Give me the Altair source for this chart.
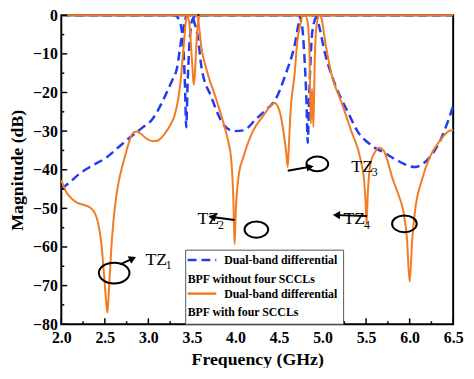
import math
import altair as alt
import pandas as pd

# ---------------- data ----------------
# BPF without four SCCLs (blue dashed)
wo_s21_f = [2.0, 2.1, 2.21, 2.35, 2.52, 2.65, 2.78, 2.92, 3.05, 3.19, 3.27, 3.33, 3.38, 3.42, 3.44,
            3.5, 3.53, 3.57, 3.61, 3.72, 3.87, 3.98, 4.09, 4.24, 4.35, 4.46, 4.58, 4.68, 4.73, 4.76,
            4.93, 4.96, 5.03, 5.14, 5.30, 5.40, 5.55, 5.74, 5.85, 6.06, 6.15, 6.23, 6.38, 6.45, 6.5]
wo_s21_db = [-45, -43.2, -41, -39, -36.8, -34.3, -31.8, -29.3, -26.8, -21, -17, -13.5, -6, -1.5, 0,
             0, -2, -6, -13.5, -21, -28.5, -30, -29.8, -26.8, -24.5, -21.8, -15, -7.7, -1.8, 0,
             0, -2.7, -10, -17.7, -25.5, -30, -33.5, -36, -37.5, -39.3, -38.5, -36.8, -31, -26.8, -23.5]
wo_s11_f = [2.0, 3.30, 3.36, 3.40, 3.42, 3.435, 3.45, 3.47, 3.50, 3.55,
            4.72, 4.76, 4.79, 4.815, 4.83, 4.845, 4.87, 4.90, 4.95, 6.5]
wo_s11_db = [0, 0, -1.5, -8, -18, -29, -18, -8, -1.5, 0,
             0, -2, -10, -22, -33, -22, -8, -2, 0, 0]

# BPF with four SCCLs (orange solid)
w_s21_f = [2.0, 2.05, 2.12, 2.18, 2.27, 2.33, 2.38, 2.42, 2.46, 2.49, 2.515, 2.53, 2.545, 2.57,
           2.60, 2.63, 2.66, 2.72, 2.78, 2.82, 2.86, 2.92, 2.97, 3.05, 3.10, 3.19, 3.25, 3.30,
           3.34, 3.37, 3.40, 3.43, 3.45, 3.55, 3.57, 3.61, 3.68, 3.78, 3.87, 3.92, 3.95, 3.975,
           3.99, 4.005, 4.02, 4.04, 4.09, 4.20, 4.32, 4.40, 4.45, 4.49, 4.52, 4.56, 4.585, 4.60,
           4.615, 4.63, 4.68, 4.71, 4.75, 4.77, 4.97, 4.99, 5.03, 5.10, 5.22, 5.33, 5.44, 5.48,
           5.495, 5.505, 5.52, 5.55, 5.60, 5.65, 5.70, 5.81, 5.88, 5.93, 5.97, 6.0, 6.03, 6.06,
           6.14, 6.23, 6.34, 6.45, 6.5]
w_s21_db = [-42.7, -45.5, -47.5, -48.5, -49.2, -49.8, -51, -53.5, -59, -67, -74, -77, -72, -62,
            -53, -47, -43, -37.5, -32.7, -30.6, -30.1, -30.8, -31.8, -32.6, -32.5, -30.6, -28.5, -26,
            -22, -17, -9.3, -1.8, 0, 0, -1, -8.5, -15, -21.8, -28.5, -33, -37, -47,
            -59.3, -50, -45, -41, -36.8, -30, -26, -23.5, -22.7, -23.8, -26, -31.5, -36, -39.3,
            -33, -26, -15, -6.8, -1.8, 0, 0, -1, -6.8, -15, -22.7, -30, -37.7, -43.5,
            -49, -54, -46, -38.5, -35.5, -34.3, -35, -42.7, -47, -51, -58, -69, -58, -51,
            -42.7, -36.8, -32.7, -30, -29.7]
w_s11_f = [2.0, 3.44, 3.47, 3.49, 3.51, 3.52, 3.535, 3.55, 3.57, 3.60,
           4.80, 4.83, 4.85, 4.865, 4.88, 4.895, 4.91, 4.93, 4.96, 6.5]
w_s11_db = [0, 0, -2, -8, -15, -18, -15, -8, -2, 0,
            0, -2, -10, -28, -19, -29, -12, -3, 0, 0]

# axis ticks
x_major = [2.0, 2.5, 3.0, 3.5, 4.0, 4.5, 5.0, 5.5, 6.0, 6.5]
x_minor = [2.25, 2.75, 3.25, 3.75, 4.25, 4.75, 5.25, 5.75, 6.25]
y_major = [-80, -70, -60, -50, -40, -30, -20, -10, 0]
y_minor = [-75, -65, -55, -45, -35, -25, -15, -5]

# transmission-zero annotations
tz_text = ["TZ", "TZ", "TZ", "TZ"]
tz_sub = ["1", "2", "3", "4"]
tz_text_f = [2.967, 3.563, 5.33, 5.24]
tz_text_db = [-64.75, -54.0, -40.5, -54.0]
tz_sub_f = [3.20, 3.80, 5.565, 5.475]
tz_sub_db = [-65.75, -55.25, -41.75, -55.25]
ell_f = [2.607, 4.24, 4.94, 5.94]
ell_db = [-66.75, -55.5, -38.5, -54.0]
arr_f0 = [2.675, 3.99, 4.60, 5.51]
arr_db0 = [-64.5, -53.0, -40.25, -52.0]
arr_f1 = [2.82, 3.73, 4.857, 5.16]
arr_db1 = [-63.0, -52.25, -39.25, -51.75]

legend_lines = ["Dual-band differential", "BPF without four SCCLs",
                "Dual-band differential", "BPF with four SCCLs"]

# ---------------- styling ----------------
W, H = 397, 313
BLUE = "#1f3cf0"
ORANGE = "#f47b20"
SERIF = "Liberation Serif"
ELL_W = [31, 24, 22, 25]

xs = alt.Scale(domain=[2.0, 6.5], nice=False, zero=False)
ys = alt.Scale(domain=[-80, 0], nice=False, zero=False)


def curve(f, db, name):
    return pd.DataFrame({"f": f, "db": db, "s": name})


wo = pd.concat([curve(wo_s21_f, wo_s21_db, "S21"), curve(wo_s11_f, wo_s11_db, "S11")])
wi = pd.concat([curve(w_s21_f, w_s21_db, "S21"), curve(w_s11_f, w_s11_db, "S11")])

xaxis = alt.Axis(values=x_major, format=".1f", title="Frequency (GHz)",
                 labelFont=SERIF, labelFontWeight="bold",
                 labelPadding=6, titleY=36, titleBaseline="middle")
yaxis = alt.Axis(values=y_major, format="d", title="Magnitude (dB)",
                 labelFont=SERIF, labelFontWeight="bold",
                 labelPadding=4, titleX=-44, titleY=H / 2, titleBaseline="middle", titleAngle=270)

blue = alt.Chart(wo).mark_line(color=BLUE, strokeWidth=2.5, strokeDash=[9, 5],
                               interpolate="monotone").encode(
    x=alt.X("f:Q", scale=xs, axis=xaxis),
    y=alt.Y("db:Q", scale=ys, axis=yaxis),
    detail="s:N",
)
orange = alt.Chart(wi).mark_line(color=ORANGE, strokeWidth=2, interpolate="monotone").encode(
    x=alt.X("f:Q", scale=xs, axis=xaxis), y=alt.Y("db:Q", scale=ys, axis=yaxis), detail="s:N")

# inward tick marks
xtick_major = alt.Chart(pd.DataFrame({"v": x_major})).mark_rule(color="black", strokeWidth=1.5).encode(
    x=alt.X("v:Q", scale=xs, axis=xaxis), y=alt.value(H), y2=alt.value(H - 6))
xtick_minor = alt.Chart(pd.DataFrame({"v": x_minor})).mark_rule(color="black", strokeWidth=1.5).encode(
    x=alt.X("v:Q", scale=xs, axis=xaxis), y=alt.value(H), y2=alt.value(H - 3))
ytick_major = alt.Chart(pd.DataFrame({"v": y_major})).mark_rule(color="black", strokeWidth=1.5).encode(
    y=alt.Y("v:Q", scale=ys, axis=yaxis), x=alt.value(0), x2=alt.value(6))
ytick_minor = alt.Chart(pd.DataFrame({"v": y_minor})).mark_rule(color="black", strokeWidth=1.5).encode(
    y=alt.Y("v:Q", scale=ys, axis=yaxis), x=alt.value(0), x2=alt.value(3))

# annotations
ann = pd.DataFrame({"tf": tz_text_f, "tdb": tz_text_db, "t": tz_text,
                    "sf": tz_sub_f, "sdb": tz_sub_db, "sub": tz_sub,
                    "ef": ell_f, "edb": ell_db, "esize": [w * w for w in ELL_W],
                    "f0": arr_f0, "db0": arr_db0, "f1": arr_f1, "db1": arr_db1})
ann["ang"] = [
    (math.degrees(math.atan2(-(b1 - b0) * H / 80.0, (a1 - a0) * W / 4.5)) + 360) % 360
    for a0, b0, a1, b1 in zip(arr_f0, arr_db0, arr_f1, arr_db1)
]

tz_main = alt.Chart(ann).mark_text(font=SERIF, fontSize=18, align="left", baseline="alphabetic",
                                   color="black").encode(
    x=alt.X("tf:Q", scale=xs, axis=xaxis), y=alt.Y("tdb:Q", scale=ys, axis=yaxis), text="t:N")
tz_subs = alt.Chart(ann).mark_text(font=SERIF, fontSize=12, align="left", baseline="alphabetic",
                                   color="black").encode(
    x=alt.X("sf:Q", scale=xs, axis=xaxis), y=alt.Y("sdb:Q", scale=ys, axis=yaxis), text="sub:N")
ELLIPSE = "M-1,0 A1,0.68 0 1,1 1,0 A1,0.68 0 1,1 -1,0 Z"
ellipses = alt.Chart(ann).mark_point(shape=ELLIPSE, filled=False, color="black",
                                     strokeWidth=2, opacity=1).encode(
    x=alt.X("ef:Q", scale=xs, axis=xaxis), y=alt.Y("edb:Q", scale=ys, axis=yaxis),
    size=alt.Size("esize:Q", scale=None, legend=None))
arrows = alt.Chart(ann).mark_rule(color="black", strokeWidth=2).encode(
    x=alt.X("f0:Q", scale=xs, axis=xaxis), y=alt.Y("db0:Q", scale=ys, axis=yaxis),
    x2="f1:Q", y2="db1:Q")
heads = alt.Chart(ann).mark_point(shape="triangle-right", filled=True, color="black",
                                  size=70, opacity=1).encode(
    x=alt.X("f1:Q", scale=xs, axis=xaxis), y=alt.Y("db1:Q", scale=ys, axis=yaxis),
    angle=alt.Angle("ang:Q", scale=None))

# legend box
one = pd.DataFrame({"k": [0]})
LX0, LX1, LY0, LY1 = 126, 286, H - 75, H
leg_box = alt.Chart(one).mark_rect(fill="white", stroke="#555555", strokeWidth=1).encode(
    x=alt.value(LX0), x2=alt.value(LX1), y=alt.value(LY0), y2=alt.value(LY1))
leg_blue = alt.Chart(one).mark_rule(color=BLUE, strokeWidth=2.5, strokeDash=[9, 5]).encode(
    x=alt.value(LX0 + 2), x2=alt.value(LX0 + 31), y=alt.value(LY0 + 10))
leg_orange = alt.Chart(one).mark_rule(color=ORANGE, strokeWidth=2.5).encode(
    x=alt.value(LX0 + 2), x2=alt.value(LX0 + 31), y=alt.value(LY0 + 44))
leg_texts = []
for i, (txt, dx, dy) in enumerate(zip(legend_lines, [39, 2, 39, 2], [10, 29, 44, 63])):
    leg_texts.append(
        alt.Chart(one).mark_text(text=txt, font=SERIF, fontWeight="bold", fontSize=12,
                                 align="left", baseline="middle", color="black").encode(
            x=alt.value(LX0 + dx), y=alt.value(LY0 + dy)))

chart = alt.layer(
    blue, orange, xtick_major, xtick_minor, ytick_major, ytick_minor,
    arrows, heads, ellipses, tz_main, tz_subs,
    leg_box, leg_blue, leg_orange, *leg_texts
).properties(
    width=W, height=H,
    padding={"left": 54, "top": 5, "right": 13, "bottom": 42},
    autosize=alt.AutoSizeParams(type="none"),
    background="white",
).configure_view(
    stroke="black", strokeWidth=2
).configure_axis(
    ticks=False, domain=False, grid=False, labelOverlap=False, labelFlush=False,
    labelFont=SERIF, labelFontWeight="bold", labelFontSize=16, labelColor="black",
    titleFont=SERIF, titleFontWeight="bold", titleFontSize=18, titleColor="black",
)

chart.save("out.html", embed_options={"renderer": "svg", "actions": False})
